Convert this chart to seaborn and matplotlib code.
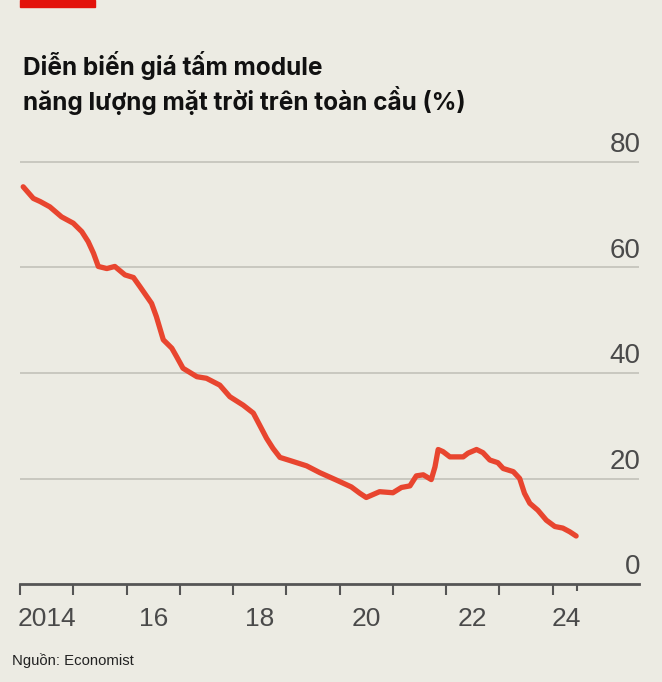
import matplotlib
matplotlib.use("Agg")
import matplotlib.pyplot as plt
import seaborn as sns
import pandas as pd

# Solar module price, %
years = [2014.06, 2014.25, 2014.38, 2014.56, 2014.78, 2015.00, 2015.16, 2015.28,
         2015.38, 2015.47, 2015.63, 2015.78, 2015.97, 2016.13, 2016.25, 2016.47,
         2016.56, 2016.69, 2016.85, 2016.94, 2017.06, 2017.32, 2017.50, 2017.75,
         2017.94, 2018.19, 2018.38, 2018.50, 2018.63, 2018.75, 2018.88, 2019.07,
         2019.38, 2019.63, 2019.94, 2020.22, 2020.38, 2020.50, 2020.75, 2021.00,
         2021.16, 2021.32, 2021.44, 2021.57, 2021.72, 2021.79, 2021.85, 2021.94,
         2022.07, 2022.32, 2022.41, 2022.57, 2022.69, 2022.82, 2022.97, 2023.07,
         2023.26, 2023.38, 2023.47, 2023.57, 2023.72, 2023.88, 2024.04, 2024.19,
         2024.32, 2024.44]
prices = [75.3, 73.1, 72.5, 71.5, 69.6, 68.4, 66.8, 64.9,
          62.7, 60.2, 59.8, 60.2, 58.6, 58.1, 56.4, 53.2,
          50.7, 46.3, 44.7, 43.1, 40.9, 39.3, 39.0, 37.7,
          35.5, 33.9, 32.4, 30.1, 27.6, 25.7, 24.0, 23.4,
          22.4, 21.1, 19.7, 18.4, 17.2, 16.4, 17.5, 17.3,
          18.3, 18.6, 20.5, 20.7, 19.8, 22.2, 25.5, 25.1,
          24.1, 24.1, 24.8, 25.5, 24.9, 23.5, 23.0, 21.9,
          21.3, 20.0, 17.2, 15.3, 14.0, 12.1, 10.9, 10.6,
          9.9, 9.1]

y_ticks = [0, 20, 40, 60, 80]
x_ticks = list(range(2014, 2025))
x_label_pos = [2014.5, 2016.5, 2018.5, 2020.5, 2022.5, 2024.25]
x_labels = ["2014", "16", "18", "20", "22", "24"]

title_lines = ["Diễn biến giá tấm module",
               "năng lượng mặt trời trên toàn cầu (%)"]
source = "Nguồn: Economist"

bg = "#ECEBE3"
line_color = "#E8452F"

df = pd.DataFrame({"year": years, "price": prices})

sns.set_theme(style="white")
plt.rcParams["font.family"] = ["Liberation Sans", "DejaVu Sans"]

W, H = 662, 682
fig = plt.figure(figsize=(W / 100, H / 100), dpi=100, facecolor=bg)
ax = fig.add_axes([20 / W, 1 - 584 / H, 619 / W, 85 * 5.275 / H])
ax.set_facecolor(bg)

sns.lineplot(data=df, x="year", y="price", ax=ax, color=line_color,
             linewidth=3.8, solid_capstyle="round", solid_joinstyle="round",
             zorder=5)

ax.set_xlim(2014, 2025.62)
ax.set_ylim(0, 85)
ax.set_xlabel("")
ax.set_ylabel("")

# horizontal gridlines + labels sitting above them on the right
ax.set_yticks(y_ticks)
ax.set_yticklabels([])
ax.tick_params(axis="y", length=0)
for v in y_ticks[1:]:
    ax.axhline(v, color="#C9C8C0", lw=1.4, zorder=1)
for v in y_ticks:
    ax.annotate(str(v), xy=(1.0, v), xycoords=("axes fraction", "data"),
                xytext=(1, 7), textcoords="offset points",
                ha="right", va="baseline", fontsize=20, color="#4A4A4A")

for s in ["top", "right", "left"]:
    ax.spines[s].set_visible(False)
ax.spines["bottom"].set_color("#555555")
ax.spines["bottom"].set_linewidth(2)

ax.set_xticks(x_ticks)
ax.set_xticklabels([])
ax.tick_params(axis="x", direction="out", length=8, width=1.5, color="#555555", bottom=True)
ax.set_xticks([2024.45], minor=True)
ax.tick_params(axis="x", which="minor", direction="out", length=5, width=1.5,
               color="#555555", bottom=True)

for pos, lab in zip(x_label_pos, x_labels):
    ax.annotate(lab, xy=(pos, 0), xycoords=("data", "axes fraction"),
                xytext=(0, -30), textcoords="offset points",
                ha="center", va="baseline", fontsize=19, color="#4A4A4A")

# red tag top-left
fig.patches.append(plt.Rectangle((20 / W, 1 - 7 / H), 75 / W, 7 / H,
                                 transform=fig.transFigure, color="#E3120B"))

fig.text(23 / W, 1 - 75 / H, title_lines[0], fontsize=17.6, fontweight="bold",
         color="#111111", family=["Inter", "DejaVu Sans"], va="baseline")
fig.text(23 / W, 1 - 110 / H, title_lines[1], fontsize=17.6, fontweight="bold",
         color="#111111", family=["Inter", "DejaVu Sans"], va="baseline")

fig.text(12 / W, 1 - 665 / H, source, fontsize=10.7, color="#222222",
         va="baseline")

fig.savefig("out.png", dpi=100, facecolor=bg)
